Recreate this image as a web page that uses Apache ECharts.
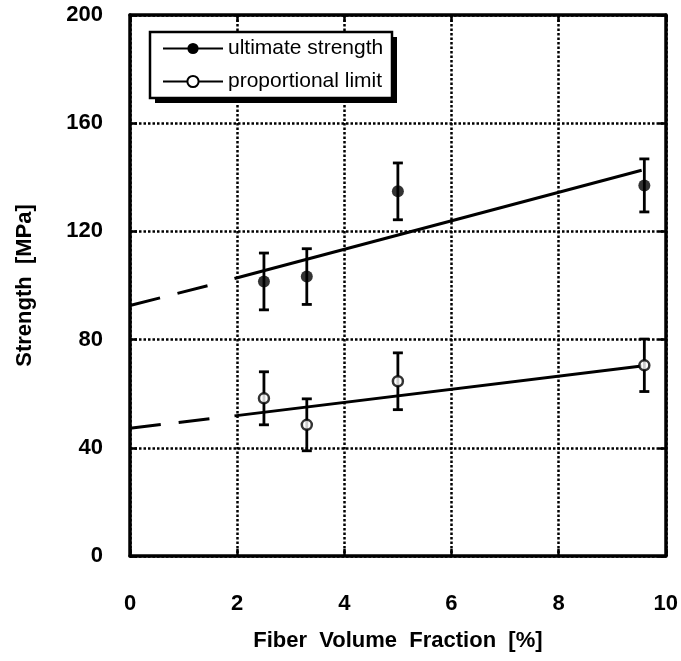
<!DOCTYPE html>
<html>
<head>
<meta charset="utf-8">
<script src="https://cdn.jsdelivr.net/npm/echarts@6/dist/echarts.min.js"></script>
<style>
  html, body { margin: 0; padding: 0; background: #fff; }
  #chart { width: 681px; height: 661px; }
</style>
</head>
<body>
<div id="chart"></div>
<script>
// Measured strengths vs. fiber volume fraction
const fiberFraction = [2.5, 3.3, 5.0, 9.6];
const ultimateStrength = [101.5, 103.3, 134.8, 137.0];
const ultimateError = [10.5, 10.3, 10.5, 9.8];
const proportionalLimit = [58.3, 48.5, 64.6, 70.5];
const proportionalError = [9.8, 9.6, 10.5, 9.7];

// Linear fits: solid over the tested range, dashed extrapolation to zero fibers
const ultimateFitSolid = [[1.95, 102.6], [9.55, 142.6]];
const ultimateFitDashed = [[0, 92.6], [1.62, 100.8]];
const proportionalFitSolid = [[1.95, 51.8], [9.55, 70.2]];
const proportionalFitDashed = [[0, 47.2], [1.63, 51.1]];

// Axis ranges and legend entries
const xMin = 0, xMax = 10, xStep = 2;
const yMin = 0, yMax = 200, yStep = 40;
const legendNames = ['ultimate strength', 'proportional limit'];

const FONT = '"Liberation Sans", Arial, Helvetica, sans-serif';

function errorBarSeries(xs, ys, errs) {
  return {
    type: 'custom',
    silent: true,
    z: 3,
    data: xs.map((x, i) => [x, ys[i] - errs[i], ys[i] + errs[i]]),
    encode: { x: 0, y: [1, 2] },
    renderItem(params, api) {
      const lo = api.coord([api.value(0), api.value(1)]);
      const hi = api.coord([api.value(0), api.value(2)]);
      const half = 5;
      const st = { stroke: '#000', lineWidth: 2.8 };
      return {
        type: 'group',
        children: [
          { type: 'line', shape: { x1: lo[0], y1: lo[1], x2: hi[0], y2: hi[1] }, style: st },
          { type: 'line', shape: { x1: lo[0] - half, y1: lo[1], x2: lo[0] + half, y2: lo[1] }, style: st },
          { type: 'line', shape: { x1: hi[0] - half, y1: hi[1], x2: hi[0] + half, y2: hi[1] }, style: st }
        ]
      };
    }
  };
}

function pairs(xs, ys) { return xs.map((x, i) => [x, ys[i]]); }

const filledMarker = { color: '#000', borderColor: '#000', borderWidth: 0 };
const openMarker = { color: '#fff', borderColor: '#000', borderWidth: 2.5 };

const labelFont = { fontFamily: FONT, fontSize: 22, fontWeight: 'bold', color: '#000' };
const gridDots = { show: true, lineStyle: { color: '#000', width: 2.5, type: [2.5, 2] } };

const chart = echarts.init(document.getElementById('chart'), null, { renderer: 'canvas' });

function frameAxis(extra) {
  return Object.assign({
    type: 'value',
    axisLine: { show: true, onZero: false, lineStyle: { color: '#000', width: 3.5 } },
    axisTick: { show: true, inside: true, length: 7, lineStyle: { color: '#000', width: 2.5 } },
    splitLine: { show: false }
  }, extra);
}

chart.setOption({
  animation: false,
  backgroundColor: '#fff',
  grid: { left: 130, right: 15, top: 15, bottom: 105, show: false },
  // legend frame with a solid drop shadow
  graphic: [
    { type: 'rect', z: 20, silent: true, shape: { x: 155, y: 37, width: 242, height: 66 }, style: { fill: '#000' } },
    { type: 'rect', z: 21, silent: true, shape: { x: 150, y: 32, width: 242, height: 66 }, style: { fill: '#fff', stroke: '#000', lineWidth: 2.5 } }
  ],
  legend: {
    z: 30,
    left: 162, top: 38,
    orient: 'vertical',
    padding: 0,
    itemWidth: 60,
    itemHeight: 14,
    itemGap: 12,
    textStyle: { fontFamily: FONT, fontSize: 21, color: '#000' },
    data: legendNames
  },
  xAxis: [
    frameAxis({
      min: xMin, max: xMax, interval: xStep,
      position: 'bottom',
      name: 'Fiber  Volume  Fraction  [%]',
      nameLocation: 'middle',
      nameGap: 74,
      nameTextStyle: labelFont,
      axisLabel: Object.assign({ margin: 37 }, labelFont),
      splitLine: gridDots
    }),
    frameAxis({
      min: xMin, max: xMax, interval: xStep,
      position: 'top',
      axisLabel: { show: false }
    })
  ],
  yAxis: [
    frameAxis({
      min: yMin, max: yMax, interval: yStep,
      position: 'left',
      name: 'Strength  [MPa]',
      nameLocation: 'middle',
      nameGap: 94,
      nameTextStyle: labelFont,
      axisLabel: Object.assign({ margin: 27 }, labelFont),
      splitLine: gridDots
    }),
    frameAxis({
      min: yMin, max: yMax, interval: yStep,
      position: 'right',
      axisLabel: { show: false }
    })
  ],
  series: [
    {
      name: legendNames[0], type: 'line', data: ultimateFitSolid,
      symbol: 'circle', symbolSize: 11, showSymbol: false,
      itemStyle: filledMarker,
      lineStyle: { color: '#000', width: 3 }, z: 2, silent: true
    },
    {
      name: 'ultimate fit extrapolated', type: 'line', data: ultimateFitDashed,
      symbol: 'none',
      lineStyle: { color: '#000', width: 3, type: [31, 18] }, z: 2, silent: true
    },
    {
      name: legendNames[1], type: 'line', data: proportionalFitSolid,
      symbol: 'circle', symbolSize: 9, showSymbol: false,
      itemStyle: openMarker,
      lineStyle: { color: '#000', width: 3 }, z: 2, silent: true
    },
    {
      name: 'proportional fit extrapolated', type: 'line', data: proportionalFitDashed,
      symbol: 'none',
      lineStyle: { color: '#000', width: 3, type: [31, 18] }, z: 2, silent: true
    },
    errorBarSeries(fiberFraction, ultimateStrength, ultimateError),
    errorBarSeries(fiberFraction, proportionalLimit, proportionalError),
    {
      name: 'ultimate points', type: 'scatter', data: pairs(fiberFraction, ultimateStrength),
      symbol: 'circle', symbolSize: 12, itemStyle: filledMarker, z: 4
    },
    {
      name: 'proportional points', type: 'scatter', data: pairs(fiberFraction, proportionalLimit),
      symbol: 'circle', symbolSize: 10, itemStyle: openMarker, z: 4
    }
  ]
});
</script>
</body>
</html>
